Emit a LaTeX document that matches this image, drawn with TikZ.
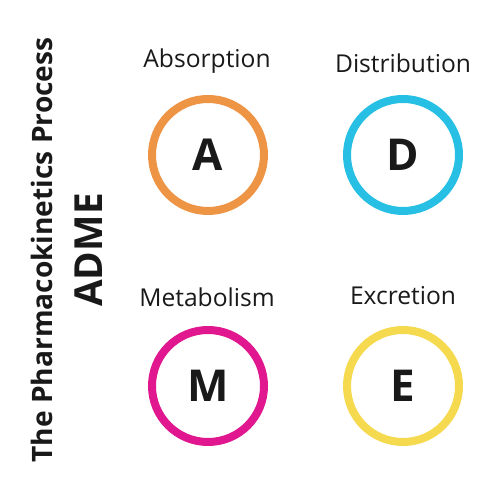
\documentclass[tikz,border=0pt]{standalone}
\usepackage{fontspec}
\setmainfont{Open Sans}
\definecolor{absorb}{HTML}{EE9445}
\definecolor{distrib}{HTML}{27BFE3}
\definecolor{metab}{HTML}{E0178E}
\definecolor{excret}{HTML}{F5D94F}
\tikzset{
  ring/.style={circle,draw=#1,line width=0.16cm,minimum size=2.24cm,inner sep=0pt,
    font=\fontsize{25}{30}\selectfont\bfseries,text=black!90},
  stage/.style={font=\fontsize{14}{17}\selectfont,text=black!90},
  title/.style={rotate=90,font=\bfseries,text=black!90}
}
\begin{document}
\begin{tikzpicture}
\useasboundingbox (0,0) rectangle (10,10);
% the title, set on its side
\node[title,font=\fontsize{16}{19}\selectfont\bfseries] (process) at (0.84,5) {The Pharmacokinetics Process};
\node[title,font=\fontsize{22}{26}\selectfont\bfseries] (adme) at (1.78,5) {ADME};
% the four stages
\node[ring=absorb] (a) at (4.16,6.9) {A};
\node[ring=distrib] (d) at (8.06,6.9) {D};
\node[ring=metab] (m) at (4.16,2.28) {M};
\node[ring=excret] (e) at (8.06,2.28) {E};
% their names
\node[stage] (absorption) at (4.14,8.78) {Absorption};
\node[stage] (distribution) at (8.06,8.74) {Distribution};
\node[stage] (metabolism) at (4.14,4.06) {Metabolism};
\node[stage] (excretion) at (8.06,4.08) {Excretion};
\end{tikzpicture}
\end{document}
